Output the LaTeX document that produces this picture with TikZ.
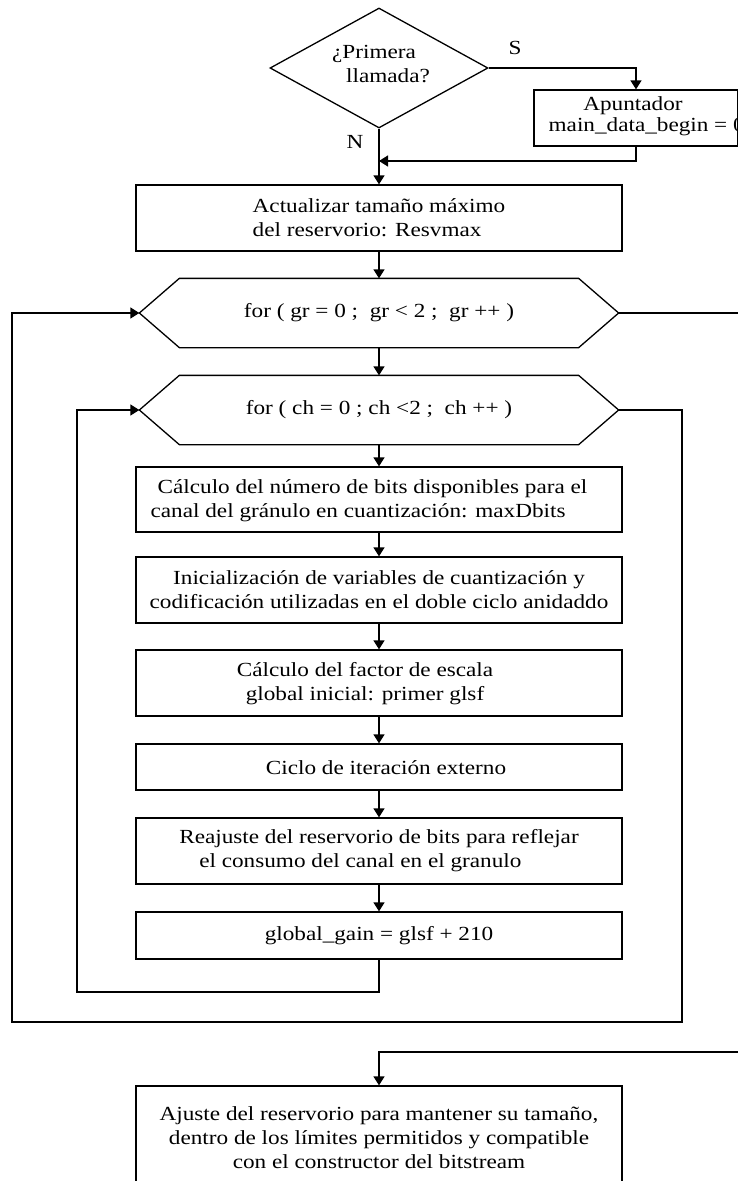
\documentclass[tikz,border=0pt]{standalone}
\usepackage{fontspec}
\setmainfont{Liberation Serif}[FakeStretch=1.16]
\usetikzlibrary{arrows.meta,calc,shapes.geometric}

\begin{document}
\begin{tikzpicture}[x=1pt,y=-1pt,
  line width=1.3pt,
  every node/.style={font=\fontsize{20}{24}\selectfont, inner sep=0pt},
  box/.style={draw, rectangle, minimum width=486pt},
  hexcore/.style={rectangle, minimum width=398pt, minimum height=68pt},
  arr/.style={-{Triangle[length=9pt,width=11pt]}}]
\useasboundingbox (0,0) rectangle (738,1181);
\clip (0,0) rectangle (738,1181);

% decision: first call?
\node[draw, diamond, aspect=1.8, minimum width=218pt, minimum height=120pt]
  (dia) at (379,68) {};
\node[align=left] (diatext) at (381,64) {¿Primera\\\hspace*{14pt}llamada?};
\node (lblS) at (515,48) {S};
\node (lblN) at (355,142) {N};

% pointer reset box (runs past the right edge)
\node[draw, rectangle, minimum width=204pt, minimum height=56pt] (apu) at (636,118) {};
\node (aputxt1) at (633,106) {Apuntador};
\node[anchor=west] (aputxt2) at (548,127) {main\_data\_begin = 0};

% process boxes
\node[box, minimum height=66pt, align=left] (act) at (379,218)
  {Actualizar tamaño máximo\\del reservorio: Resvmax};

% loop headers drawn as hexagons around an invisible core
\node[hexcore] (h1) at (379,313) {for ( gr = 0 ;\ \ gr < 2 ;\ \ gr ++ )};
\node[hexcore] (h2) at (379,410) {for ( ch = 0 ; ch <2 ;\ \ ch ++ )};
\foreach \h in {h1,h2}{
  \coordinate (\h w) at ($(\h.west)+(-40,0)$);
  \coordinate (\h e) at ($(\h.east)+(40,0)$);
  \draw (\h.north west) -- (\h.north east) -- (\h e) -- (\h.south east)
        -- (\h.south west) -- (\h w) -- cycle;
}

\node[box, minimum height=65pt] (calc) at (379,499.5) {};
\node[align=left] (calctxt) at (369,501)
  {\hspace*{7pt}Cálculo del número de bits disponibles para el\\canal del gránulo en cuantización: maxDbits};
\node[box, minimum height=66pt, align=center] (ini) at (379,590)
  {Inicialización de variables de cuantización y\\codificación utilizadas en el doble ciclo anidaddo};
\node[box, minimum height=66pt] (fac) at (379,683) {};
\node[align=center] (factxt) at (365,684)
  {Cálculo del factor de escala\\global inicial: primer glsf};
\node[box, minimum height=46pt] (ciclo) at (379,767) {};
\node (ciclotxt) at (386,768) {Ciclo de iteración externo};
\node[box, minimum height=66pt, align=left] (reaj) at (379,851)
  {Reajuste del reservorio de bits para reflejar\\\hspace*{20pt}el consumo del canal en el granulo};
\node[box, minimum height=47pt] (gg) at (379,935.5) {global\_gain = glsf + 210};
\node[box, minimum height=104pt, align=center] (aju) at (379,1138)
  {Ajuste del reservorio para mantener su tamaño,\\dentro de los límites permitidos y compatible\\con el constructor del bitstream};

% connector corners
\coordinate (jn) at (379,161);
\coordinate (i1) at (77,992);
\coordinate (o1) at (682,1022);
\coordinate (o2) at (12,1022);
\coordinate (x1) at (760,1052);

% main flow
\draw[arr] (dia.east) -| (apu.north);
\draw[arr] (apu.south) |- (jn);
\draw[arr] (dia.south) -- (act.north);
\draw[arr] (act.south) -- (h1.north);
\draw[arr] (h1.south) -- (h2.north);
\draw[arr] (h2.south) -- (calc.north);
\draw[arr] (calc.south) -- (ini.north);
\draw[arr] (ini.south) -- (fac.north);
\draw[arr] (fac.south) -- (ciclo.north);
\draw[arr] (ciclo.south) -- (reaj.north);
\draw[arr] (reaj.south) -- (gg.north);

% inner loop (channels)
\draw[arr] (gg.south) |- (i1) |- (h2w);
% outer loop (granules)
\draw[arr] (h2e) -| (o1) -- (o2) |- (h1w);
% loop exit
\draw[arr] (h1e) -| (x1) -| (aju.north);
\end{tikzpicture}
\end{document}
